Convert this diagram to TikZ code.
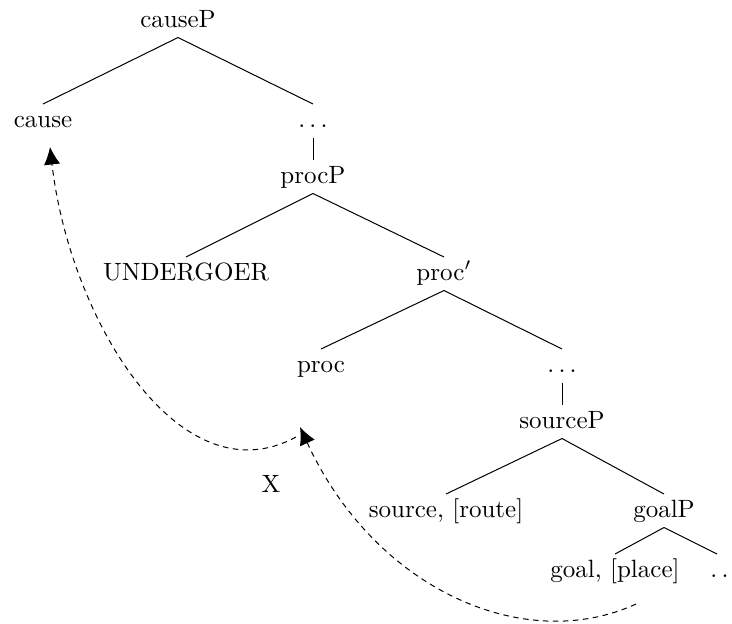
\documentclass[tikz,border=0pt]{standalone}
\usepackage{tikz}
\usetikzlibrary{arrows.meta}

\begin{document}
\begin{tikzpicture}[x=0.4pt, y=-0.4pt,
  cat/.style={anchor=base, inner sep=2pt, text height=7pt, text depth=2pt},
  mv/.style={dash pattern=on 2.2pt off 1.8pt, -{Latex[length=7pt,width=6.5pt]}}]
\useasboundingbox (0,0) rectangle (732,623);

% the tree, placed by baselines
\node [cat] (causeP)    at (178, 27)  {causeP};
\node [cat] (cause)     at (43, 127)  {cause};
\node [cat] (dotsA)     at (313, 127) {$\ldots$};
\node [cat] (procP)     at (313, 183) {procP};
\node [cat] (undergoer) at (186, 280) {UNDERGOER};
\node [cat] (procbar)   at (444, 280) {proc$'$};
\node [cat] (proc)      at (321, 372) {proc};
\node [cat] (dotsB)     at (562, 372) {$\ldots$};
\node [cat] (sourceP)   at (562, 428) {sourceP};
\node [cat] (source)    at (446, 517) {source, [route]};
\node [cat] (goalP)     at (664, 517) {goalP};
\node [cat] (goal)      at (615, 577) {goal, [place]};
\node [cat] (dotsC)     at (725, 577) {$\ldots$};

\foreach \p/\c in {causeP/cause, causeP/dotsA, dotsA/procP, procP/undergoer,
  procP/procbar, procbar/proc, procbar/dotsB, dotsB/sourceP, sourceP/source,
  sourceP/goalP, goalP/goal}
  { \draw (\p.south) -- (\c.north) ; }
\draw (goalP.south) -- ([xshift=-3.2pt]dotsC.north) ;

% movement paths
\coordinate (goalfoot) at (636, 604);
\coordinate (procfoot) at (296, 437);
\coordinate (proctip)  at (300, 427);
\coordinate (causetip) at (50, 147);
\draw [mv] (goalfoot) .. controls (525, 655) and (375, 590) .. (proctip);
\draw [mv] (procfoot) .. controls (180, 500) and (70, 320) .. (causetip);
\node [cat] (blockX) at (271, 492) {X};

\end{tikzpicture}
\end{document}
